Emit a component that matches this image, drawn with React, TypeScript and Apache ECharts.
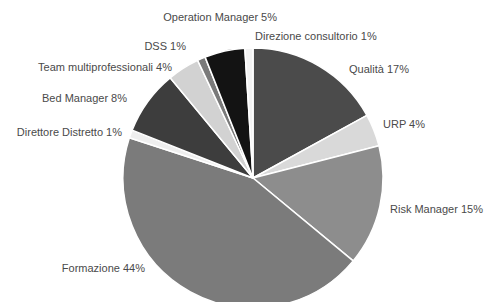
import React, { useEffect, useRef } from "react";
import * as echarts from "echarts";

const categories = [
  "Qualità",
  "URP",
  "Risk Manager",
  "Formazione",
  "Direttore Distretto",
  "Bed Manager",
  "Team multiprofessionali",
  "DSS",
  "Operation Manager",
  "Direzione consultorio",
];
const values = [17, 4, 15, 44, 1, 8, 4, 1, 5, 1];
const colors = [
  "#4b4b4b",
  "#d9d9d9",
  "#8d8d8d",
  "#7b7b7b",
  "#efefef",
  "#3d3d3d",
  "#d2d2d2",
  "#7a7a7a",
  "#131313",
  "#f2f2f2",
];
// label anchor: [x, y, align]
const labelPos: [number, number, string][] = [
  [349, 69, "left"],
  [383, 124, "left"],
  [390, 209, "left"],
  [145, 268, "right"],
  [122, 132, "right"],
  [127, 98, "right"],
  [172, 67, "right"],
  [186, 46, "right"],
  [277, 17, "right"],
  [255, 36, "left"],
];

export default function App() {
  const ref = useRef<HTMLDivElement>(null);
  useEffect(() => {
    if (!ref.current) return;
    const chart = echarts.init(ref.current, null, { renderer: "svg" });
    chart.setOption({
      animation: false,
      backgroundColor: "#ffffff",
      series: [
        {
          type: "pie",
          center: [253, 178],
          radius: 130,
          startAngle: 90,
          clockwise: true,
          avoidLabelOverlap: false,
          data: categories.map((c, i) => ({
            name: c,
            value: values[i],
            itemStyle: { color: colors[i] },
          })),
          itemStyle: { borderColor: "#ffffff", borderWidth: 1.5 },
          label: {
            show: true,
            position: "outside",
            formatter: (p: any) => `${p.name} ${p.value}%`,
            fontFamily: "'Liberation Sans Narrow', 'Liberation Sans', Arial, sans-serif",
            fontSize: 11,
            color: "#4a4a4a",
          },
          labelLine: { show: false },
          labelLayout: (p: any) => {
            const lp = labelPos[p.dataIndex];
            return { x: lp[0], y: lp[1], align: lp[2], verticalAlign: "middle" };
          },
        },
      ],
    });
    return () => chart.dispose();
  }, []);
  return (
    <div
      ref={ref}
      style={{ width: 488, height: 302, position: "absolute", left: 0, top: 0 }}
    />
  );
}
